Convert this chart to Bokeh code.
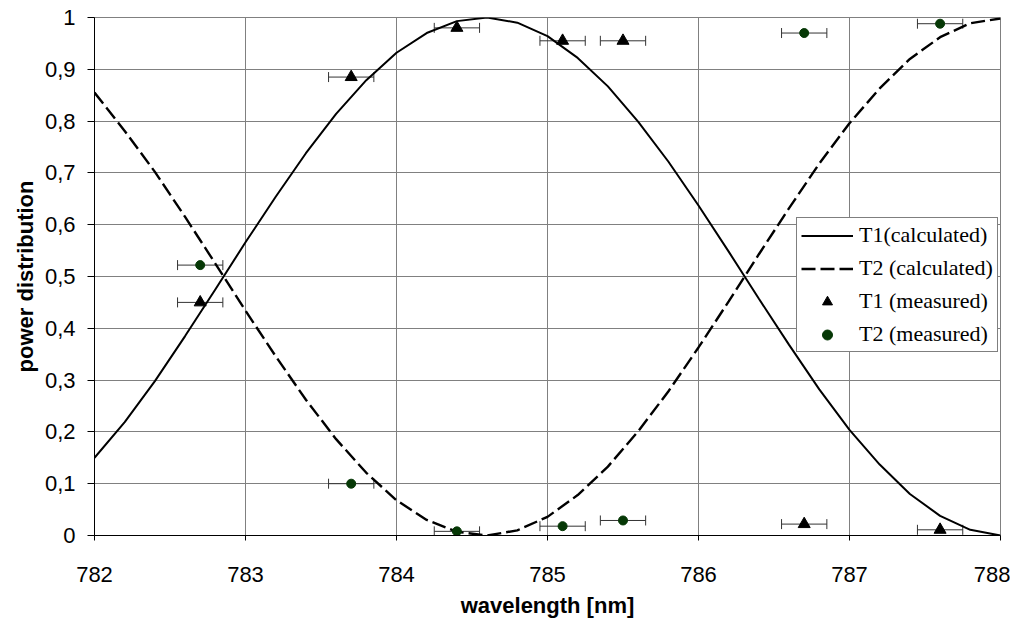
from bokeh.plotting import figure
from bokeh.models import (Range1d, FixedTicker, CustomJSTickFormatter, ColumnDataSource,
                          Whisker, TeeHead, Legend, LegendItem)
from bokeh.embed import file_html
from bokeh.resources import INLINE

# ---- data ----
wl_calc = [782.0, 782.2, 782.4, 782.6, 782.8, 783.0, 783.2, 783.4, 783.6, 783.8,
           784.0, 784.2, 784.4, 784.6, 784.8, 785.0, 785.2, 785.4, 785.6, 785.8,
           786.0, 786.2, 786.4, 786.6, 786.8, 787.0, 787.2, 787.4, 787.6, 787.8, 788.0]
t1_calc = [0.150, 0.219, 0.298, 0.385, 0.475, 0.566, 0.654, 0.738, 0.814, 0.879,
           0.932, 0.970, 0.993, 1.000, 0.990, 0.964, 0.922, 0.867, 0.799, 0.722,
           0.637, 0.548, 0.457, 0.368, 0.282, 0.204, 0.137, 0.080, 0.038, 0.011, 0.000]
t2_calc = [0.855, 0.781, 0.702, 0.615, 0.525, 0.434, 0.346, 0.262, 0.186, 0.121,
           0.068, 0.030, 0.007, 0.000, 0.010, 0.036, 0.078, 0.133, 0.201, 0.278,
           0.363, 0.452, 0.543, 0.632, 0.718, 0.796, 0.863, 0.920, 0.962, 0.989, 0.998]

wl_meas = [782.7, 783.7, 784.4, 785.1, 785.5, 786.7, 787.6]
t1_meas = [0.450, 0.885, 0.980, 0.955, 0.955, 0.022, 0.011]
t2_meas = [0.522, 0.100, 0.008, 0.018, 0.029, 0.970, 0.988]
wl_err = [0.15, 0.15, 0.15, 0.15, 0.15, 0.15, 0.15]

x_ticks = [782, 783, 784, 785, 786, 787, 788]
y_ticks = [0, 0.1, 0.2, 0.3, 0.4, 0.5, 0.6, 0.7, 0.8, 0.9, 1.0]

# ---- figure ----
p = figure(width=1010, height=620, output_backend="svg", toolbar_location=None,
           x_range=Range1d(782, 788), y_range=Range1d(0, 1),
           min_border_left=94, min_border_right=10, min_border_top=17, min_border_bottom=85)
p.background_fill_color = "white"
p.outline_line_color = "#808080"
p.outline_line_width = 1

for ax in (p.xaxis[0], p.yaxis[0]):
    ax.axis_line_color = "black"
    ax.major_tick_line_color = "black"
    ax.minor_tick_line_color = None
    ax.major_tick_in = 0
    ax.major_label_text_font = "Liberation Sans"
    ax.major_label_text_font_size = "22px"
    ax.major_label_text_color = "black"
    ax.axis_label_text_font = "Liberation Sans"
    ax.axis_label_text_font_size = "22px"
    ax.axis_label_text_font_style = "bold"
    ax.axis_label_text_color = "black"

p.xaxis.ticker = FixedTicker(ticks=x_ticks)
p.yaxis.ticker = FixedTicker(ticks=y_ticks)
p.yaxis.formatter = CustomJSTickFormatter(code="""
if (Math.abs(tick) < 1e-9) return '0';
if (Math.abs(tick - 1) < 1e-9) return '1';
return tick.toFixed(1).replace('.', ',');
""")
p.xaxis.major_tick_out = 5
p.yaxis.major_tick_out = 7
p.xaxis.major_label_standoff = 26
p.yaxis.major_label_standoff = 12
p.xaxis.axis_label = "wavelength [nm]"
p.yaxis.axis_label = "power distribution"
p.xaxis.axis_label_standoff = 8
p.yaxis.axis_label_standoff = 4

p.grid.grid_line_color = "#808080"
p.grid.grid_line_width = 1

# calculated curves
r1 = p.line(wl_calc, t1_calc, line_color="black", line_width=2)
r2 = p.line(wl_calc, t2_calc, line_color="black", line_width=2.4, line_dash="14 5")

# error bars
src = ColumnDataSource(dict(
    x=wl_meas, t1=t1_meas, t2=t2_meas,
    lo=[a - e for a, e in zip(wl_meas, wl_err)],
    hi=[a + e for a, e in zip(wl_meas, wl_err)],
))
for col in ("t1", "t2"):
    w = Whisker(source=src, base=col, lower="lo", upper="hi", dimension="width",
                line_color="#333333", line_width=1,
                lower_head=TeeHead(size=10, line_color="#333333", line_width=1),
                upper_head=TeeHead(size=10, line_color="#333333", line_width=1))
    p.add_layout(w)

r3 = p.scatter("x", "t1", source=src, marker="triangle", size=12,
               fill_color="black", line_color="black")
r4 = p.scatter("x", "t2", source=src, marker="circle", size=9,
               fill_color="#063806", line_color="#063806")

legend = Legend(items=[
    LegendItem(label="T1(calculated)", renderers=[r1]),
    LegendItem(label="T2 (calculated)", renderers=[r2]),
    LegendItem(label="T1 (measured)", renderers=[r3]),
    LegendItem(label="T2 (measured)", renderers=[r4]),
], location=(702, 183))
legend.label_text_font = "Liberation Serif"
legend.label_text_font_size = "22px"
legend.label_text_color = "black"
legend.border_line_color = "black"
legend.border_line_width = 1
legend.background_fill_color = "white"
legend.background_fill_alpha = 1
legend.glyph_width = 52
legend.glyph_height = 25
legend.label_height = 25
legend.label_standoff = 6
legend.spacing = 7
legend.padding = 4
legend.margin = 0
p.add_layout(legend)

open("out.html", "w").write(file_html(p, INLINE))
